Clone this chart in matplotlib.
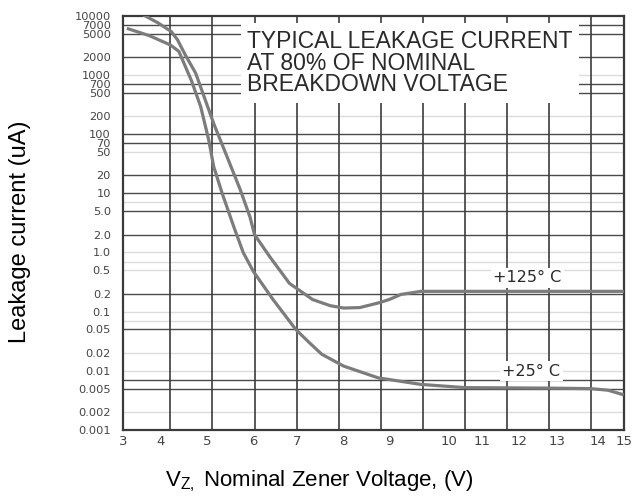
import matplotlib
matplotlib.use("Agg")
import matplotlib.pyplot as plt
import numpy as np

# ---------------- data ----------------
# 25 C curve (voltage on the chart grid, leakage current in uA)
v_25 = [3.0, 3.5, 4.0, 4.2, 4.5, 4.72, 4.91, 5.03, 5.23, 5.5, 5.73, 5.97, 6.44, 6.98,
        7.3, 7.6, 8.12, 8.94, 9.95, 11.0, 13.0, 14.0, 14.4, 14.74]
i_25 = [6000, 4600, 3200, 2500, 800, 290, 80, 28, 10, 2.8, 1.0, 0.48, 0.16, 0.05,
        0.03, 0.019, 0.012, 0.0076, 0.0059, 0.0052, 0.0051, 0.0050, 0.0047, 0.0040]

# 125 C curve
v_125 = [3.39, 3.7, 4.02, 4.17, 4.35, 4.6, 4.8, 5.03, 5.31, 5.66, 5.89, 6.0, 6.36, 6.83,
         7.38, 7.8, 8.12, 8.5, 8.94, 9.2, 9.48, 9.95, 11.0, 13.0, 14.74]
i_125 = [10000, 7600, 5400, 3900, 2200, 1070, 430, 150, 48, 11.5, 4.0, 2.0, 0.85, 0.30,
         0.16, 0.126, 0.115, 0.117, 0.14, 0.16, 0.195, 0.22, 0.22, 0.22, 0.22]

y_tick_values = [10000, 7000, 5000, 2000, 1000, 700, 500, 200, 100, 70, 50, 20, 10,
                 5, 2, 1, 0.5, 0.2, 0.1, 0.05, 0.02, 0.01, 0.005, 0.002, 0.001]
y_tick_labels = ["10000", "7000", "5000", "2000", "1000", "700", "500", "200", "100",
                 "70", "50", "20", "10", "5.0", "2.0", "1.0", "0.5", "0.2", "0.1",
                 "0.05", "0.02", "0.01", "0.005", "0.002", "0.001"]
x_tick_labels = ["3", "4", "5", "6", "7", "8", "9", "10", "11", "12", "13", "14", "15"]

# ---------------- layout / style ----------------
x_grid = list(range(4, 15))
# label placement as printed on the original (scanned) sheet
x_label_pos = [2.88, 3.77, 4.87, 5.97, 7.02, 8.12, 9.21, 10.62, 11.40, 12.30, 13.19, 14.17, 14.79]
h_dark = [7000, 5000, 2000, 700, 500, 100, 70, 20, 10, 5, 2, 0.2, 0.05, 0.007, 0.005]
h_light = [1000, 200, 50, 7, 1, 0.7, 0.5, 0.1, 0.07, 0.02, 0.01, 0.002]

W, H = 639, 497
fig = plt.figure(figsize=(W / 100, H / 100), dpi=100)
L, R, T, B = 123.3, 624.3, 15.7, 430.0
ax = fig.add_axes([L / W, 1 - B / H, (R - L) / W, (B - T) / H])
ax.set_yscale("log")
ax.set_xlim(3, 14.74)
ax.set_ylim(1e-3, 1e4)

for y in h_light:
    ax.axhline(y, color="#dcdcdc", lw=1.0, zorder=1)
for y in h_dark:
    ax.axhline(y, color="#4a4a4a", lw=1.0, zorder=1.2)
for x in x_grid:
    ax.axvline(x, color="#3c3c3c", lw=1.2, zorder=1.3)

curve_col = "#7c7c7c"
ax.plot(v_25, i_25, color=curve_col, lw=2.3, zorder=3, solid_joinstyle="round")
ax.plot(v_125, i_125, color=curve_col, lw=2.3, zorder=3, solid_joinstyle="round")

for s in ax.spines.values():
    s.set_color("#3a3a3a")
    s.set_linewidth(1.6)

ax.minorticks_off()
ax.set_yticks(y_tick_values)
ax.set_yticklabels(y_tick_labels)
ax.set_xticks(x_label_pos)
ax.set_xticklabels(x_tick_labels)
ax.tick_params(axis="both", length=0, labelsize=8.2, colors="#444444")
ax.tick_params(axis="x", labelsize=9.5)
ax.tick_params(axis="y", pad=9)
ax.tick_params(axis="x", pad=3.5)
for t in ax.get_xticklabels() + ax.get_yticklabels():
    t.set_family("DejaVu Sans")

# note box
ax.text(0.247, 0.966, "TYPICAL LEAKAGE CURRENT\nAT 80% OF NOMINAL\nBREAKDOWN VOLTAGE",
        transform=ax.transAxes, ha="left", va="top", fontsize=16.5,
        family="Liberation Sans", color="#2a2a2a", linespacing=0.93, zorder=5,
        bbox=dict(boxstyle="square,pad=0.28", fc="white", ec="none"))

ax.text(12.48, 0.37, "+125° C", ha="center", va="center", fontsize=11.5,
        family="DejaVu Sans", color="#2a2a2a", zorder=5,
        bbox=dict(boxstyle="square,pad=0.15", fc="white", ec="none"))
ax.text(12.58, 0.0098, "+25° C", ha="center", va="center", fontsize=11.5,
        family="DejaVu Sans", color="#2a2a2a", zorder=5,
        bbox=dict(boxstyle="square,pad=0.15", fc="white", ec="none"))

plt.rcParams["mathtext.fontset"] = "custom"
plt.rcParams["mathtext.rm"] = "Liberation Sans"
plt.rcParams["mathtext.it"] = "Liberation Sans"

fig.text(20 / W, 1 - 232 / H, "Leakage current (uA)", rotation=90, ha="center",
         va="center", fontsize=17, family="Liberation Sans", color="black")
fig.text(0.5, 1 - 486.7 / H, r"V$_{\mathrm{Z,}}$ Nominal Zener Voltage, (V)",
         ha="center", va="baseline", fontsize=16, family="Liberation Sans",
         color="black")

fig.savefig("out.png", dpi=100)
